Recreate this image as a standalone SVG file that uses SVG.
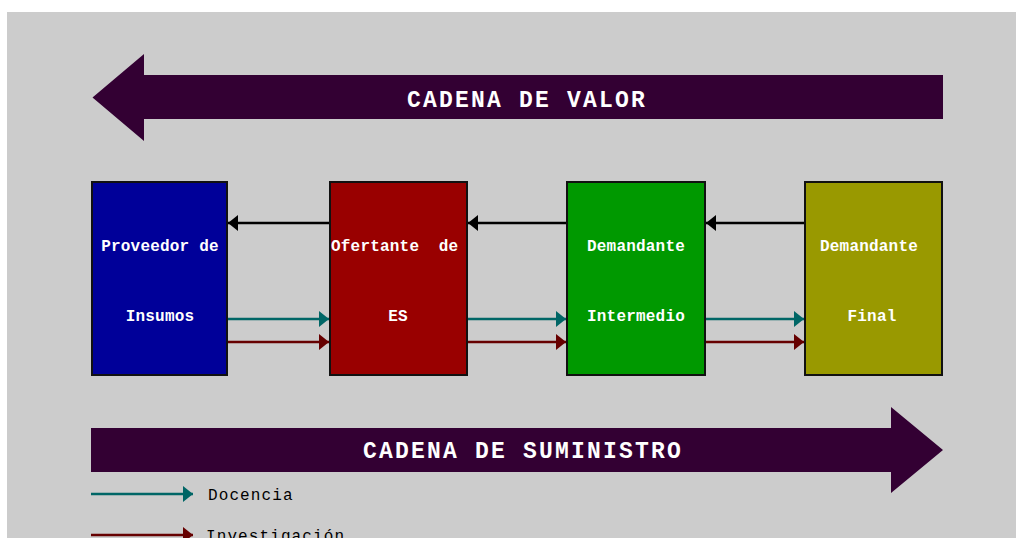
<svg xmlns="http://www.w3.org/2000/svg" width="1016" height="538" viewBox="0 0 1016 538">
<style>
.box{stroke:#111;stroke-width:2}
.nt{font-family:"Liberation Mono","Courier New",monospace;font-weight:bold;font-size:16px;letter-spacing:0.2px;fill:#fff;text-anchor:middle}
.ttl{font-family:"Liberation Mono","Courier New",monospace;font-weight:bold;font-size:23px;letter-spacing:2.2px;fill:#fff;text-anchor:middle}
.lg{font-family:"Liberation Mono","Courier New",monospace;font-size:16px;letter-spacing:1.1px;fill:#000}
.blk{stroke:#000;stroke-width:2.5;fill:none}
.teal{stroke:#006666;stroke-width:2.5;fill:none}
.red{stroke:#660000;stroke-width:2.5;fill:none}
</style>
<defs>
<marker id="mb" markerUnits="userSpaceOnUse" markerWidth="10" markerHeight="18" refX="10" refY="9" orient="auto"><path d="M0,1 L10,9 L0,17 Z" fill="#000"/></marker>
<marker id="mt" markerUnits="userSpaceOnUse" markerWidth="10" markerHeight="18" refX="10" refY="9" orient="auto"><path d="M0,1 L10,9 L0,17 Z" fill="#006666"/></marker>
<marker id="mr" markerUnits="userSpaceOnUse" markerWidth="10" markerHeight="18" refX="10" refY="9" orient="auto"><path d="M0,1 L10,9 L0,17 Z" fill="#660000"/></marker>
</defs>
<rect x="0" y="0" width="1016" height="538" fill="#fff"/>
<rect x="7" y="12" width="1009" height="526" fill="#cccccc"/>
<g id="cadena-valor">
<polygon points="92.5,97.5 144,54 144,75 943,75 943,119 144,119 144,141" fill="#330033"/>
<text class="ttl" x="527" y="107">CADENA DE VALOR</text>
</g>
<g id="cadena-suministro">
<polygon points="91,428 891,428 891,407 943,450 891,493 891,472 91,472" fill="#330033"/>
<text class="ttl" x="523" y="458">CADENA DE SUMINISTRO</text>
</g>
<g id="proveedor">
<rect class="box" x="92" y="182" width="135" height="193" fill="#000099"/>
<text class="nt" x="160" y="251">Proveedor de</text>
<text class="nt" x="160" y="321">Insumos</text>
</g>
<g id="ofertante">
<rect class="box" x="330" y="182" width="137" height="193" fill="#990000"/>
<text class="nt" x="331" y="251" style="text-anchor:start;white-space:pre" xml:space="preserve">Ofertante  de</text>
<text class="nt" x="398" y="321">ES</text>
</g>
<g id="demandante-intermedio">
<rect class="box" x="567" y="182" width="138" height="193" fill="#009900"/>
<text class="nt" x="636" y="251">Demandante</text>
<text class="nt" x="636" y="321">Intermedio</text>
</g>
<g id="demandante-final">
<rect class="box" x="805" y="182" width="137" height="193" fill="#999900"/>
<text class="nt" x="869" y="251">Demandante</text>
<text class="nt" x="872" y="321">Final</text>
</g>
<g id="connectors">
<line class="blk" x1="329" y1="223" x2="228" y2="223" marker-end="url(#mb)"/>
<line class="blk" x1="566" y1="223" x2="468" y2="223" marker-end="url(#mb)"/>
<line class="blk" x1="804" y1="223" x2="706" y2="223" marker-end="url(#mb)"/>
<line class="teal" x1="228" y1="319" x2="329" y2="319" marker-end="url(#mt)"/>
<line class="teal" x1="468" y1="319" x2="566" y2="319" marker-end="url(#mt)"/>
<line class="teal" x1="706" y1="319" x2="804" y2="319" marker-end="url(#mt)"/>
<line class="red" x1="228" y1="342" x2="329" y2="342" marker-end="url(#mr)"/>
<line class="red" x1="468" y1="342" x2="566" y2="342" marker-end="url(#mr)"/>
<line class="red" x1="706" y1="342" x2="804" y2="342" marker-end="url(#mr)"/>
</g>
<g id="legend">
<line class="teal" x1="91" y1="494" x2="193" y2="494" marker-end="url(#mt)"/>
<text class="lg" x="208" y="500">Docencia</text>
<line class="red" x1="91" y1="535" x2="193" y2="535" marker-end="url(#mr)"/>
<text class="lg" x="206" y="541">Investigación</text>
</g>
</svg>
